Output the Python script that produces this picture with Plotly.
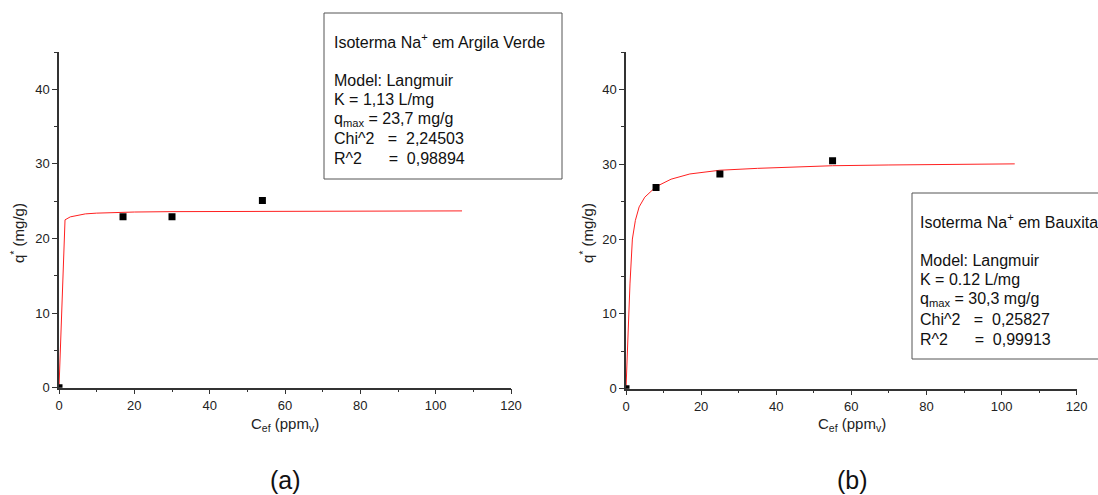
import plotly.graph_objects as go

# ---- data ----
# (a) Argila Verde
a_pts_x = [0, 17, 30, 54]
a_pts_y = [0, 22.9, 22.9, 25.1]
a_fit_x = [0, 1.6, 3, 4.7, 7, 10, 15, 20, 30, 40, 55, 70, 85, 100, 107]
a_fit_y = [0, 22.5, 22.9, 23.1, 23.3, 23.4, 23.5, 23.55, 23.6, 23.62, 23.65, 23.67, 23.68, 23.69, 23.7]
# (b) Bauxita
b_pts_x = [0, 8, 25, 55]
b_pts_y = [0, 26.9, 28.7, 30.45]
b_fit_x = [0, 0.5, 1.06, 1.7, 2.5, 3.5, 5, 8, 12, 17, 25, 35, 45, 55, 70, 85, 103.5]
b_fit_y = [0, 7, 14, 20, 22.5, 24.3, 25.6, 27.0, 28.0, 28.7, 29.2, 29.45, 29.65, 29.8, 29.9, 30.0, 30.05]

x_ticks = [0, 20, 40, 60, 80, 100, 120]
y_ticks = [0, 10, 20, 30, 40]

box_a = ["Isoterma Na<sup>+</sup> em Argila Verde", "",
         "Model: Langmuir", "K = 1,13 L/mg", "q<sub>max</sub> = 23,7 mg/g",
         "Chi^2   =  2,24503", "R^2      =  0,98894"]
box_b = ["Isoterma Na<sup>+</sup> em Bauxita", "",
         "Model: Langmuir", "K = 0.12 L/mg", "q<sub>max</sub> = 30,3 mg/g",
         "Chi^2   =  0,25827", "R^2      =  0,99913"]

W, H = 1098, 495
FONT = "Liberation Sans, Arial, sans-serif"
def px(x): return x / W
def py(y): return 1 - y / H

fig = go.Figure()
for xs, ys, fx, fy, xa, ya in [(a_pts_x, a_pts_y, a_fit_x, a_fit_y, "x", "y"),
                               (b_pts_x, b_pts_y, b_fit_x, b_fit_y, "x2", "y2")]:
    fig.add_trace(go.Scatter(x=fx, y=fy, mode="lines", line=dict(color="#ff2020", width=1),
                             xaxis=xa, yaxis=ya, showlegend=False))
    fig.add_trace(go.Scatter(x=xs, y=ys, mode="markers",
                             marker=dict(symbol="square", size=7, color="black"),
                             xaxis=xa, yaxis=ya, showlegend=False))

axis_common = dict(showgrid=False, zeroline=False, showline=True, linecolor="#333",
                   linewidth=1.5, ticks="outside", ticklen=5, tickwidth=1.2, tickcolor="#333",
                   tickfont=dict(family=FONT, size=13, color="#222"), mirror=False,
                   automargin=False)
xminor = dict(dtick=10, ticklen=3, tickwidth=1.2, tickcolor="#333", ticks="outside")
yminor = dict(dtick=5, ticklen=3, tickwidth=1.2, tickcolor="#333", ticks="outside")

fig.update_layout(
    width=W, height=H, margin=dict(l=0, r=0, t=0, b=0, autoexpand=False),
    paper_bgcolor="white", plot_bgcolor="white",
    xaxis=dict(domain=[px(59), px(511)], range=[0, 120], tickvals=x_ticks, minor=xminor,
               anchor="y", **axis_common),
    yaxis=dict(domain=[py(387.7), py(52)], range=[0, 45], tickvals=y_ticks, minor=yminor,
               anchor="x", **axis_common),
    xaxis2=dict(domain=[px(626), px(1076.7)], range=[0, 120], tickvals=x_ticks, minor=xminor,
                anchor="y2", **axis_common),
    yaxis2=dict(domain=[py(388.7), py(52)], range=[0, 45], tickvals=y_ticks, minor=yminor,
                anchor="x2", **axis_common),
)

ann = []
shapes = []
# axis titles and panel labels
for xc, lab in [(285, "(a)"), (852, "(b)")]:
    ann.append(dict(x=px(xc), y=py(480), xref="paper", yref="paper", text=lab, showarrow=False,
                    font=dict(family=FONT, size=25, color="#111"), xanchor="center", yanchor="middle"))
    ann.append(dict(x=px(xc), y=py(424), xref="paper", yref="paper",
                    text="C<sub>ef</sub> (ppm<sub>v</sub>)", showarrow=False,
                    font=dict(family=FONT, size=15, color="#222"), xanchor="center", yanchor="middle"))
for xc in [18, 587]:
    ann.append(dict(x=px(xc), y=py(233), xref="paper", yref="paper",
                    text="q<sup>*</sup> (mg/g)", textangle=-90, showarrow=False,
                    font=dict(family=FONT, size=15, color="#222"), xanchor="center", yanchor="middle"))

# info boxes
for lines, x0, x1, y0, y1, tx, ys in [
        (box_a, 324, 562, 13, 179, 332, [41, 60.5, 80, 99.5, 119, 138.5, 158]),
        (box_b, 912, 1104, 193, 359, 918, [221, 240.5, 260, 279.5, 299, 319, 339])]:
    shapes.append(dict(type="rect", xref="paper", yref="paper", x0=px(x0), x1=px(x1),
                       y0=py(y1), y1=py(y0), line=dict(color="#555", width=1), fillcolor="white"))
    for t, yy in zip(lines, ys):
        if not t:
            continue
        ann.append(dict(x=px(tx), y=py(yy), xref="paper", yref="paper", text=t, showarrow=False,
                        font=dict(family=FONT, size=16, color="#111"), xanchor="left", yanchor="middle"))

fig.update_layout(annotations=ann, shapes=shapes)
fig.write_html("out.html")
